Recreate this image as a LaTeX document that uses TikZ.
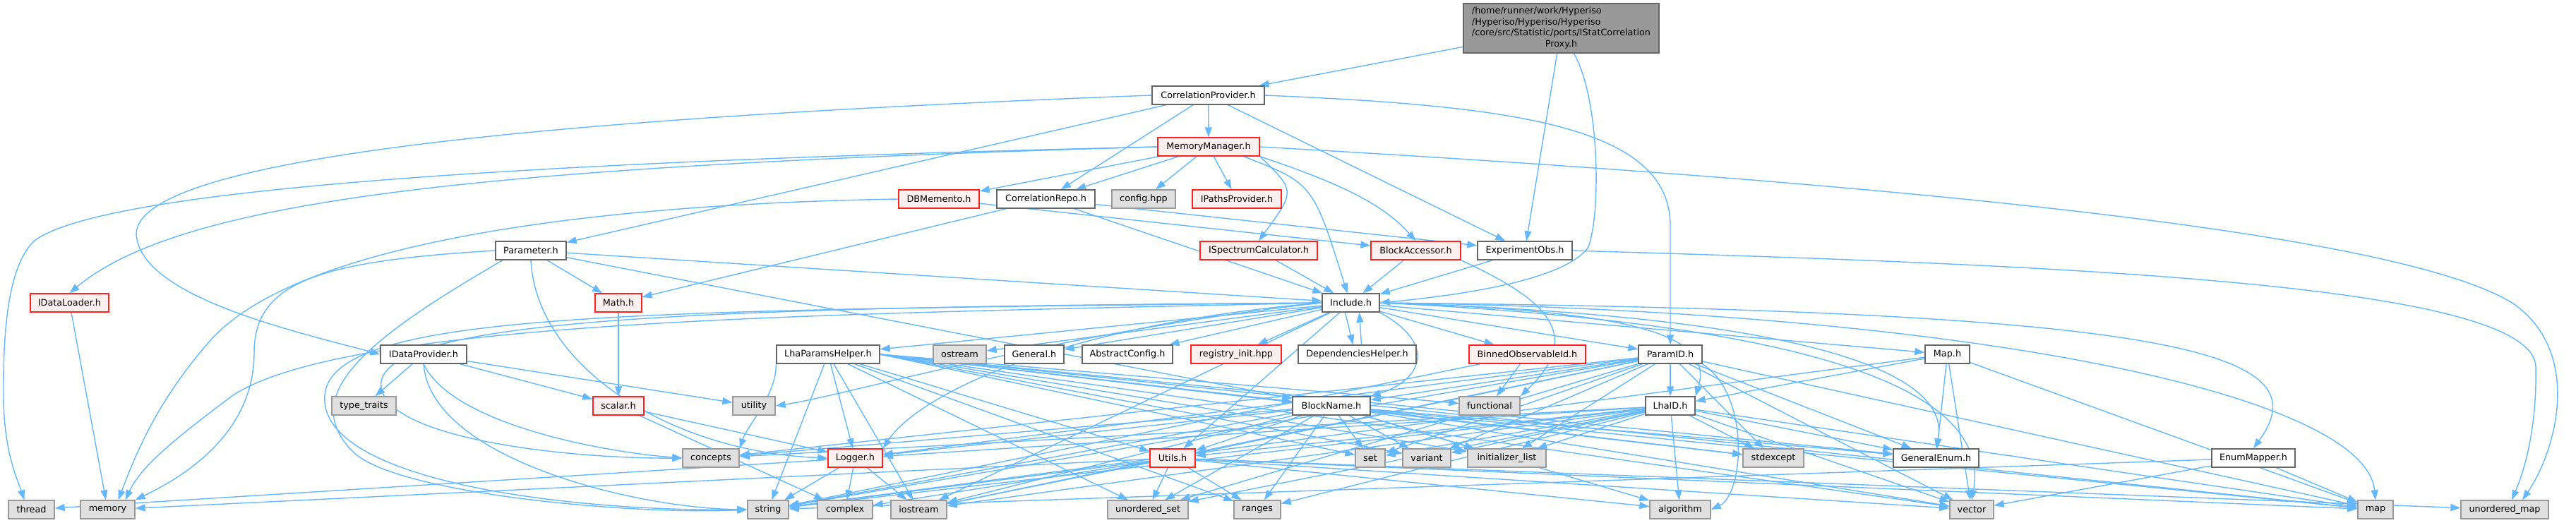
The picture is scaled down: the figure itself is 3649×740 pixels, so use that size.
\documentclass[tikz,border=0pt]{standalone}
\usepackage{fontspec}
\setmainfont{DejaVu Sans}
\usetikzlibrary{arrows.meta}
\pgfdeclarelayer{bg}
\pgfsetlayers{bg,main}
\definecolor{edgec}{HTML}{63B8FF}
\definecolor{topfill}{HTML}{999999}
\definecolor{topdraw}{HTML}{666666}
\definecolor{nwdraw}{HTML}{666666}
\definecolor{redfill}{HTML}{FFF0F0}
\definecolor{reddraw}{HTML}{FF2020}
\definecolor{stdfill}{HTML}{E0E0E0}
\definecolor{stddraw}{HTML}{999999}
\tikzset{
  base/.style={draw, rectangle, minimum height=26pt, inner sep=0pt, line width=1.4pt,
    font=\fontsize{12.8pt}{15.5pt}\selectfont},
  nw/.style={base, fill=white, draw=nwdraw},
  nr/.style={base, fill=redfill, draw=reddraw},
  ng/.style={base, fill=stdfill, draw=stddraw},
  topnode/.style={base, fill=topfill, draw=topdraw, minimum height=70pt},
  e/.style={draw=edgec, line width=1.4pt, -{Triangle[length=14pt,width=10pt]}},
}
\begin{document}
\begin{tikzpicture}[x=1pt,y=-1pt]
\useasboundingbox (0,0) rectangle (3649,740);
% row 0
\node[topnode, minimum width=277pt] (top) at (2211.5,40)
  {\begin{tabular}{@{}l@{}}/home/runner/work/Hyperiso\\/Hyperiso/Hyperiso/Hyperiso\\/core/src/Statistic/ports/IStatCorrelation\\\multicolumn{1}{@{}c@{}}{Proxy.h}\end{tabular}};
% row 1-2
\node[nw, minimum width=159pt] (cprov) at (1711.5,135) {CorrelationProvider.h};
\node[nr, minimum width=144pt] (memmgr) at (1712,208) {MemoryManager.h};
% row 3
\node[nr, minimum width=114pt] (dbm) at (1330,282) {DBMemento.h};
\node[nw, minimum width=139pt] (crepo) at (1481.5,282) {CorrelationRepo.h};
\node[ng, minimum width=90pt] (config) at (1620,282) {config.hpp};
\node[nr, minimum width=126pt] (ipaths) at (1752,282) {IPathsProvider.h};
% row 4
\node[nw, minimum width=100pt] (param) at (752,355) {Parameter.h};
\node[nr, minimum width=166pt] (ispec) at (1783,355) {ISpectrumCalculator.h};
\node[nr, minimum width=127pt] (bacc) at (2005.5,355) {BlockAccessor.h};
\node[nw, minimum width=134pt] (expobs) at (2160,355) {ExperimentObs.h};
% row 5
\node[nr, minimum width=111pt] (idl) at (98.5,429) {IDataLoader.h};
\node[nr, minimum width=66pt] (math) at (876,429) {Math.h};
\node[nw, minimum width=81pt] (incl) at (1913.5,429) {Include.h};
% row 6
\node[nw, minimum width=122pt] (idp) at (600,502) {IDataProvider.h};
\node[nw, minimum width=146pt] (lhaph) at (1173,502) {LhaParamsHelper.h};
\node[ng, minimum width=75pt] (ostream) at (1359.5,502) {ostream};
\node[nw, minimum width=84pt] (general) at (1465,502) {General.h};
\node[nw, minimum width=128pt] (absconf) at (1597,502) {AbstractConfig.h};
\node[nr, minimum width=128pt] (reginit) at (1751,502) {registry\_init.hpp};
\node[nw, minimum width=167pt] (dephelp) at (1922.5,502) {DependenciesHelper.h};
\node[nr, minimum width=165pt] (binned) at (2163.5,502) {BinnedObservableId.h};
\node[nw, minimum width=90pt] (paramid) at (2366,502) {ParamID.h};
\node[nw, minimum width=63pt] (maph) at (2758.5,502) {Map.h};
% row 7
\node[ng, minimum width=91pt] (typetr) at (515.5,575) {type\_traits};
\node[nr, minimum width=72pt] (scalar) at (876,575) {scalar.h};
\node[ng, minimum width=60pt] (utility) at (1068,575) {utility};
\node[nw, minimum width=110pt] (blockname) at (1886,575) {BlockName.h};
\node[ng, minimum width=86pt] (functional) at (2110,575) {functional};
\node[nw, minimum width=70pt] (lhaid) at (2366,575) {LhaID.h};
% row 8
\node[ng, minimum width=80pt] (concepts) at (1007,649) {concepts};
\node[nr, minimum width=77pt] (logger) at (1211.5,649) {Logger.h};
\node[nr, minimum width=64pt] (utils) at (1661,649) {Utils.h};
\node[ng, minimum width=42pt] (set) at (1941,649) {set};
\node[ng, minimum width=68pt] (variant) at (2021,649) {variant};
\node[ng, minimum width=111pt] (initl) at (2134.5,649) {initializer\_list};
\node[ng, minimum width=86pt] (stdexcept) at (2512,649) {stdexcept};
\node[nw, minimum width=121pt] (genenum) at (2742.5,649) {GeneralEnum.h};
\node[nw, minimum width=118pt] (enummap) at (3192,649) {EnumMapper.h};
% row 9
\node[ng, minimum width=65pt] (thread) at (44.5,722) {thread};
\node[ng, minimum width=77pt] (memory) at (152.5,722) {memory};
\node[ng, minimum width=58pt] (string) at (1088,722) {string};
\node[ng, minimum width=78pt] (complex) at (1197,722) {complex};
\node[ng, minimum width=79pt] (iostream) at (1301.5,722) {iostream};
\node[ng, minimum width=114pt] (uset) at (1626,722) {unordered\_set};
\node[ng, minimum width=66pt] (ranges) at (1781,722) {ranges};
\node[ng, minimum width=86pt] (algorithm) at (2380,722) {algorithm};
\node[ng, minimum width=62pt] (vector) at (2793,722) {vector};
\node[ng, minimum width=50pt] (map) at (3365,722) {map};
\node[ng, minimum width=124pt] (umap) at (3548,722) {unordered\_map};

\begin{pgfonlayer}{bg}
\fill[white] (0,0) rectangle (3649,740);
% top
\draw[e] (top) -- (cprov);
\draw[e] (top) -- (expobs);
\draw[e] ([xshift=18pt]top.south) .. controls (2266,140) and (2268,300) .. (2250,350) .. controls (2215,400) and (2050,420) .. (incl.east);
% CorrelationProvider
\draw[e] (cprov.west) .. controls (700,170) and (200,230) .. (193,330) .. controls (195,420) and (420,470) .. (idp.west);
\draw[e] (cprov) -- (param);
\draw[e] (cprov) -- (crepo);
\draw[e] (cprov) -- (memmgr);
\draw[e] (cprov) -- (expobs);
\draw[e] (cprov.east) .. controls (2150,150) and (2366,180) .. (2366,320) -- (paramid.north);
% MemoryManager
\draw[e] (memmgr.west) .. controls (700,230) and (150,270) .. (50,340) .. controls (5,380) and (5,500) .. (5,560) .. controls (5,640) and (25,680) .. ([xshift=-10pt]thread.north);
\draw[e] (memmgr.west) .. controls (700,235) and (260,280) .. (idl.north);
\draw[e] (memmgr) -- (dbm);
\draw[e] (memmgr) -- (crepo);
\draw[e] (memmgr) -- (config);
\draw[e] (memmgr) -- (ipaths);
\draw[e] (memmgr.south east) .. controls (1835,270) .. (ispec.north);
\draw[e] ([xshift=50pt]memmgr.south) .. controls (1860,260) .. ([xshift=-5pt]incl.north);
\draw[e] (memmgr.south east) .. controls (1900,260) and (1960,290) .. (bacc.north);
\draw[e] (memmgr.east) .. controls (2700,260) and (3400,330) .. (3560,430) .. controls (3660,500) and (3620,640) .. ([xshift=25pt]umap.north);
% DBMemento, CorrelationRepo
\draw[e] (dbm) -- (bacc);
\draw[e] (dbm.west) .. controls (800,290) and (420,350) .. (300,480) .. controls (220,570) and (190,650) .. ([xshift=15pt]memory.north);
\draw[e] (crepo) -- (math);
\draw[e] (crepo) -- (incl);
\draw[e] (crepo) -- (expobs);
% Parameter
\draw[e] (param) -- (math);
\draw[e] (param) -- (incl);
\draw[e] (param) -- (blockname);
\draw[e] (param.south) .. controls (760,520) and (950,640) .. (logger.west);
\draw[e] ([xshift=-40pt]param.south) .. controls (520,480) and (420,560) .. (500,640) .. controls (560,700) and (900,730) .. (string.west);
\draw[e] (param.west) .. controls (450,370) and (360,400) .. (360,500) .. controls (360,620) and (250,680) .. (memory.north east);
% ISpectrumCalculator, BlockAccessor, ExperimentObs
\draw[e] (ispec) -- (incl);
\draw[e] (bacc) -- (incl);
\draw[e] (bacc.south east) .. controls (2180,420) and (2250,470) .. (functional.north east);
\draw[e] (expobs) -- (incl);
\draw[e] (expobs.east) .. controls (2900,375) and (3590,400) .. (3592,520) .. controls (3594,620) and (3570,680) .. ([xshift=10pt]umap.north);
% IDataLoader, Math
\draw[e] (idl) -- (memory);
\draw[e] (math) -- (scalar);
% Include
\draw[e] (incl) -- (ostream);
\draw[e] (incl) -- (general);
\draw[e] (incl) -- (absconf);
\draw[e] (incl) -- (reginit);
\draw[e] ([xshift=-8pt]incl.south) -- ([xshift=-6pt]dephelp.north);
\draw[e] ([xshift=6pt]dephelp.north) -- ([xshift=12pt]incl.south);
\draw[e] (incl) -- (binned);
\draw[e] (incl) -- (paramid);
\draw[e] (incl) -- (maph);
\draw[e] (incl) -- (lhaph);
\draw[e] (incl.south east) .. controls (2040,490) and (2010,540) .. (blockname.north east);
\draw[e] (incl.east) .. controls (2300,440) and (2430,470) .. (lhaid.north east);
\draw[e] (incl.east) .. controls (3100,440) and (3290,500) .. (enummap.north);
\draw[e] (incl.east) .. controls (2650,450) and (2760,550) .. (genenum.north);
\draw[e] (incl.east) .. controls (2600,460) and (2820,560) .. (vector.north);
\draw[e] (incl.east) .. controls (2800,440) and (3350,560) .. (map.north);
\draw[e] (incl.west) .. controls (1500,460) and (1300,560) .. (logger.north east);
\draw[e] (incl) -- (utils);
\draw[e] (incl) -- (iostream);
\draw[e] (incl.west) .. controls (900,440) and (470,440) .. (460,560) .. controls (450,680) and (800,725) .. (string.west);
\draw[e] (incl.west) .. controls (1000,435) and (560,450) .. (540,540) .. controls (530,620) and (800,650) .. (concepts.west);
\draw[e] (incl.west) .. controls (1200,445) and (500,450) .. (330,560) .. controls (250,620) and (200,660) .. ([xshift=25pt]memory.north);
\draw[e] (incl.west) .. controls (1500,470) and (1200,560) .. (utility.east);
% IDataProvider
\draw[e] (idp) -- (typetr);
\draw[e] (idp) -- (scalar);
\draw[e] (idp) -- (utility);
\draw[e] (idp.south) .. controls (640,600) and (850,640) .. (concepts.west);
\draw[e] (idp.south) .. controls (610,650) and (900,720) .. (string.west);
% LhaParamsHelper
\draw[e] (lhaph.south west) .. controls (1100,560) and (1060,600) .. (concepts.north east);
\draw[e] (lhaph) -- (string);
\draw[e] (lhaph) -- (logger);
\draw[e] (lhaph) -- (iostream);
\draw[e] (lhaph) -- (uset);
\draw[e] (lhaph) -- (ranges);
\draw[e] (lhaph) -- (utils);
\draw[e] (lhaph.east) -- (blockname);
\draw[e] (lhaph.east) -- (set);
\draw[e] (lhaph.east) -- (variant);
\draw[e] (lhaph.east) -- (initl);
\draw[e] (lhaph.east) -- (functional);
\draw[e] (lhaph.east) -- (stdexcept);
\draw[e] (lhaph.east) -- (genenum);
\draw[e] (lhaph.east) -- (vector);
\draw[e] (lhaph.east) -- (map);
% BinnedObservableId
\draw[e] (binned) -- (functional);
\draw[e] (binned) -- (string);
% ParamID
\draw[e] (paramid) -- (lhaid);
\draw[e] (paramid) -- (blockname);
\draw[e] (paramid) -- (utils);
\draw[e] (paramid) -- (logger);
\draw[e] (paramid) -- (concepts);
\draw[e] (paramid) -- (string);
\draw[e] (paramid) -- (iostream);
\draw[e] (paramid) -- (set);
\draw[e] (paramid) -- (variant);
\draw[e] (paramid) -- (initl);
\draw[e] (paramid) -- (stdexcept);
\draw[e] (paramid.south east) .. controls (2480,560) and (2470,700) .. (algorithm.east);
\draw[e] (paramid) -- (uset);
\draw[e] (paramid) -- (genenum);
\draw[e] (paramid) -- (vector);
\draw[e] (paramid) -- (map);
% Map.h
\draw[e] (maph) -- (lhaid);
\draw[e] (maph) -- (genenum);
\draw[e] (maph) -- (map);
\draw[e] (maph) -- (vector);
\draw[e] (maph) -- (string);
% scalar
\draw[e] (scalar) -- (logger);
\draw[e] (scalar) -- (complex);
% BlockName
\draw[e] (blockname) -- (utils);
\draw[e] (blockname) -- (logger);
\draw[e] (blockname) -- (concepts);
\draw[e] (blockname) -- (string);
\draw[e] (blockname) -- (iostream);
\draw[e] (blockname) -- (set);
\draw[e] (blockname) -- (variant);
\draw[e] (blockname) -- (initl);
\draw[e] (blockname) -- (stdexcept);
\draw[e] (blockname) -- (ranges);
\draw[e] (blockname) -- (uset);
\draw[e] (blockname) -- (algorithm);
\draw[e] (blockname) -- (genenum);
\draw[e] (blockname) -- (vector);
\draw[e] (blockname) -- (map);
% LhaID
\draw[e] (lhaid) -- (utils);
\draw[e] (lhaid) -- (logger);
\draw[e] (lhaid) -- (concepts);
\draw[e] (lhaid) -- (string);
\draw[e] (lhaid) -- (iostream);
\draw[e] (lhaid) -- (set);
\draw[e] (lhaid) -- (variant);
\draw[e] (lhaid) -- (initl);
\draw[e] (lhaid) -- (stdexcept);
\draw[e] (lhaid) -- (algorithm);
\draw[e] (lhaid) -- (ranges);
\draw[e] (lhaid) -- (uset);
\draw[e] (lhaid) -- (genenum);
\draw[e] (lhaid) -- (vector);
\draw[e] (lhaid) -- (map);
% Utils
\draw[e] (utils) -- (uset);
\draw[e] (utils) -- (ranges);
\draw[e] (utils) -- (string);
\draw[e] (utils) -- (iostream);
\draw[e] (utils) -- (complex);
\draw[e] (utils) -- (vector);
\draw[e] (utils) -- (map);
\draw[e] (utils) -- (algorithm);
\draw[e] (utils) -- (umap);
\draw[e] (utils) -- (memory);
% Logger
\draw[e] (logger) -- (string);
\draw[e] (logger) -- (complex);
\draw[e] (logger) -- (iostream);
\draw[e] (logger) -- (thread);
% EnumMapper
\draw[e] (enummap) -- (map);
\draw[e] (enummap) -- (vector);
\draw[e] (enummap) -- (string);
\end{pgfonlayer}
\end{tikzpicture}
\end{document}
